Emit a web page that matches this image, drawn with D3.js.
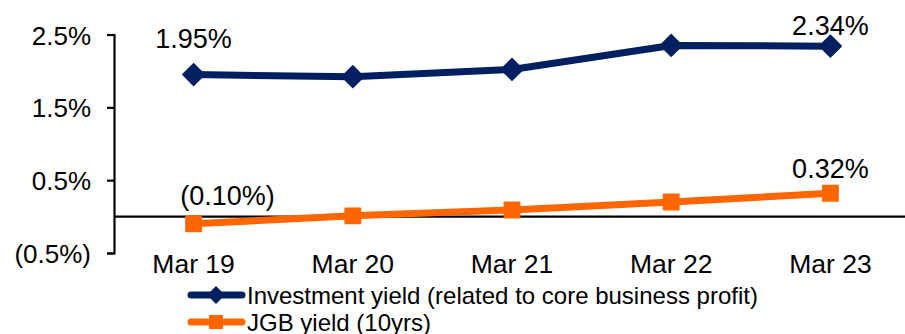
<!DOCTYPE html>
<html>
<head>
<meta charset="utf-8">
<script src="https://cdn.jsdelivr.net/npm/d3@7/dist/d3.min.js"></script>
<style>
  html, body { margin: 0; padding: 0; background: #fff; }
  svg { display: block; font-family: "Liberation Sans", Arial, sans-serif; }
</style>
</head>
<body>
<svg id="chart" width="905" height="334"></svg>
<script>
// Fiscal year-end periods
const categories = ["Mar 19", "Mar 20", "Mar 21", "Mar 22", "Mar 23"];
// Investment yield (related to core business profit), %
const investmentYield = [1.95, 1.92, 2.02, 2.35, 2.34];
// JGB yield (10yrs), %
const jgbYield = [-0.10, 0.01, 0.09, 0.20, 0.32];
// Y-axis tick values and labels
const yTicks = [-0.5, 0.5, 1.5, 2.5];
const yTickLabels = ["(0.5%)", "0.5%", "1.5%", "2.5%"];
const seriesNames = ["Investment yield (related to core business profit)", "JGB yield (10yrs)"];

const NAVY = "#002060", ORANGE = "#ff6600";
const fmt = v => v < 0 ? "(" + Math.abs(v).toFixed(2) + "%)" : v.toFixed(2) + "%";

const svg = d3.select("#chart");
const axisX = 114;

const x = d3.scaleBand().domain(categories).range([axisX, 910]).padding(0);
const cx = c => x(c) + x.bandwidth() / 2;
const y = d3.scaleLinear().domain([-0.5, 2.5]).range([253, 34.5]);

// Y axis with outward ticks
const yAxis = d3.axisLeft(y).tickValues(yTicks)
  .tickFormat((d, i) => yTickLabels[i]).tickSize(7).tickPadding(16);
const gy = svg.append("g").attr("transform", `translate(${axisX},0)`).call(yAxis);
gy.select(".domain").attr("stroke", "#000").attr("stroke-width", 2.2);
gy.selectAll(".tick line").attr("stroke", "#000").attr("stroke-width", 2.2);
gy.selectAll(".tick text").attr("font-size", 26).attr("fill", "#000")
  .attr("font-family", "Liberation Sans, Arial, sans-serif").attr("dy", "0.37em");

// Zero baseline
svg.append("line").attr("x1", axisX).attr("x2", 905)
  .attr("y1", y(0)).attr("y2", y(0)).attr("stroke", "#000").attr("stroke-width", 2.2);

// Category labels
const xAxis = d3.axisBottom(x).tickSize(0).tickPadding(0);
const gx = svg.append("g").attr("transform", `translate(0,${y(-0.5)})`).call(xAxis);
gx.select(".domain").remove();
gx.selectAll(".tick text").attr("font-size", 26.5).attr("fill", "#000")
  .attr("font-family", "Liberation Sans, Arial, sans-serif").attr("y", 20).attr("dy", 0);

const diamond = d3.symbol().type(d3.symbolDiamond2);
const square = d3.symbol().type(d3.symbolSquare2);

function drawSeries(values, color, sym, symSize) {
  const pts = values.map((v, i) => [cx(categories[i]), y(v)]);
  svg.append("path").attr("d", d3.line()(pts)).attr("fill", "none")
    .attr("stroke", color).attr("stroke-width", 7).attr("stroke-linejoin", "round");
  svg.selectAll(null).data(pts).join("path")
    .attr("transform", d => `translate(${d[0]},${d[1]})`)
    .attr("d", sym.size(symSize)()).attr("fill", color)
    .attr("stroke", color).attr("stroke-width", 1.5).attr("stroke-linejoin", "round");
}
drawSeries(investmentYield, NAVY, diamond, 300);
drawSeries(jgbYield, ORANGE, square, 300);

// Value labels for first and last periods
const labelOpts = [
  { s: investmentYield, i: 0, dx: 0, dy: -27 },
  { s: investmentYield, i: 4, dx: 0, dy: -11 },
  { s: jgbYield, i: 0, dx: 34, dy: -19 },
  { s: jgbYield, i: 4, dx: 0, dy: -15.5 }
];
svg.selectAll(null).data(labelOpts).join("text")
  .attr("x", d => cx(categories[d.i]) + d.dx)
  .attr("y", d => y(d.s[d.i]) + d.dy)
  .attr("text-anchor", "middle").attr("font-size", 27).attr("fill", "#000")
  .text(d => fmt(d.s[d.i]));

// Legend
const legend = svg.append("g");
const rows = [
  { name: seriesNames[0], color: NAVY, sym: diamond, size: 160, y: 295 },
  { name: seriesNames[1], color: ORANGE, sym: square, size: 200, y: 322 }
];
rows.forEach(r => {
  legend.append("line").attr("x1", 191).attr("x2", 242).attr("y1", r.y).attr("y2", r.y)
    .attr("stroke", r.color).attr("stroke-width", 7).attr("stroke-linecap", "round");
  legend.append("path").attr("transform", `translate(216,${r.y})`)
    .attr("d", r.sym.size(r.size)()).attr("fill", r.color)
    .attr("stroke", r.color).attr("stroke-width", 1.5).attr("stroke-linejoin", "round");
  legend.append("text").attr("x", 247).attr("y", r.y + 9)
    .attr("font-size", 24).attr("fill", "#000").text(r.name);
});
</script>
</body>
</html>
